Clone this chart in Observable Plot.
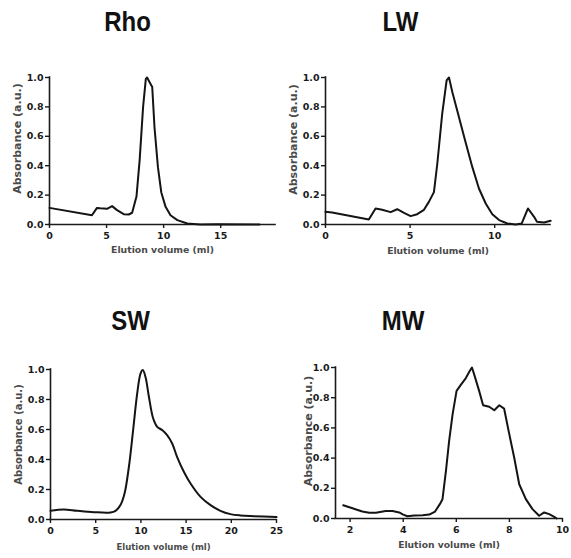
<!DOCTYPE html>
<html>
<head>
<meta charset="utf-8">
<script src="https://cdn.jsdelivr.net/npm/d3@7"></script>
<script src="https://cdn.jsdelivr.net/npm/@observablehq/plot@0.6"></script>
<style>
  body { margin: 0; background: #fff; }
  #wrap { position: relative; width: 571px; height: 558px; overflow: hidden; background: #fff; }
  .title { position: absolute; font-family: "Liberation Sans", Arial, sans-serif; font-weight: bold;
           font-size: 24px; line-height: 1; color: #111; transform: translateX(-50%) scaleY(1.12); transform-origin: 50% 85%; white-space: nowrap; }
  .panel { position: absolute; }
</style>
</head>
<body>
<div id="wrap"></div>
<script>
// ---- data ----
const titles = ["Rho", "LW", "SW", "MW"];
const yLabel = "Absorbance (a.u.)";
const xLabel = "Elution volume (ml)";
const yTicks = [0, 0.2, 0.4, 0.6, 0.8, 1.0];

const rhoX = [0, 3.72, 4.16, 4.45, 5.04, 5.48, 5.92, 6.5, 6.94, 7.24, 7.62, 7.9, 8.2, 8.44, 8.55, 8.76, 9.0, 9.2, 9.5, 9.79, 10.17, 10.6, 11.2, 12.07, 13.2, 14.7, 18.4];
const rhoY = [0.113, 0.063, 0.113, 0.11, 0.107, 0.125, 0.098, 0.07, 0.068, 0.08, 0.19, 0.44, 0.80, 0.99, 1.0, 0.97, 0.935, 0.66, 0.39, 0.22, 0.12, 0.063, 0.03, 0.007, 0.0, 0.002, 0.0];
const rhoXDomain = [0, 19.8];
const rhoXTicks = [0, 5, 10, 15];

const lwX = [0, 0.39, 2.56, 2.96, 3.35, 3.85, 4.24, 4.64, 5.03, 5.42, 5.82, 6.11, 6.41, 6.61, 6.9, 7.16, 7.3, 7.5, 7.89, 8.28, 8.68, 9.07, 9.47, 9.86, 10.26, 10.75, 11.24, 11.6, 11.97, 12.33, 12.5, 12.92, 13.31];
const lwY = [0.086, 0.082, 0.034, 0.109, 0.10, 0.084, 0.104, 0.079, 0.057, 0.07, 0.10, 0.154, 0.22, 0.415, 0.755, 0.98, 1.0, 0.9, 0.73, 0.56, 0.39, 0.245, 0.143, 0.07, 0.03, 0.007, 0.0, 0.007, 0.109, 0.052, 0.018, 0.014, 0.025];
const lwXDomain = [0, 13.3];
const lwXTicks = [0, 5, 10];

const swX = [0, 1.47, 2.95, 4.79, 6.64, 7.19, 7.74, 8.19, 8.67, 9.14, 9.59, 9.96, 10.21, 10.51, 10.88, 11.36, 11.8, 12.35, 12.9, 13.46, 14.0, 14.75, 15.49, 16.6, 17.7, 18.8, 19.9, 21.0, 22.5, 25];
const swY = [0.058, 0.067, 0.058, 0.049, 0.047, 0.058, 0.096, 0.173, 0.35, 0.596, 0.84, 0.973, 0.996, 0.95, 0.82, 0.673, 0.618, 0.596, 0.562, 0.507, 0.418, 0.318, 0.24, 0.151, 0.096, 0.058, 0.036, 0.027, 0.022, 0.016];
const swXDomain = [0, 25];
const swXTicks = [0, 5, 10, 15, 20, 25];

const mwX = [1.74, 2.09, 2.46, 2.72, 2.97, 3.34, 3.6, 3.85, 4.0, 4.16, 4.41, 4.73, 4.98, 5.2, 5.38, 5.48, 5.61, 5.73, 5.86, 6.01, 6.17, 6.36, 6.51, 6.59, 6.67, 6.86, 7.01, 7.24, 7.43, 7.62, 7.8, 7.97, 8.18, 8.37, 8.62, 8.87, 9.12, 9.31, 9.5, 9.69, 9.78];
const mwY = [0.088, 0.068, 0.046, 0.0375, 0.0375, 0.049, 0.049, 0.04, 0.026, 0.015, 0.02, 0.022, 0.026, 0.046, 0.095, 0.128, 0.316, 0.514, 0.69, 0.845, 0.885, 0.93, 0.978, 1.0, 0.956, 0.845, 0.75, 0.74, 0.717, 0.75, 0.728, 0.58, 0.404, 0.227, 0.128, 0.062, 0.018, 0.04, 0.029, 0.011, 0.0];
const mwXDomain = [1.45, 10];
const mwXTicks = [2, 4, 6, 8, 10];

// ---- layout ----
const panels = [
  {title: titles[0], xs: rhoX, ys: rhoY, dom: rhoXDomain, ticks: rhoXTicks, curve: "linear",
   left: 0, top: 60, width: 285, mL: 49, mR: 10, mT: 17, plotH: 147, mB: 40,
   tx: 127.5, tTop: 10.5, ylDx: -32, ylDy: -12.5, ylFs: 11, ylLs: 0.85, xlDy: 28.5, xlFs: 9.3},
  {title: titles[1], xs: lwX, ys: lwY, dom: lwXDomain, ticks: lwXTicks, curve: "linear",
   left: 285, top: 60, width: 286, mL: 40, mR: 21, mT: 17, plotH: 147, mB: 40,
   tx: 400.5, tTop: 10.5, ylDx: -32.5, ylDy: -11.5, ylFs: 11, ylLs: 0.75, xlDy: 29, xlFs: 9.2},
  {title: titles[2], xs: swX, ys: swY, dom: swXDomain, ticks: swXTicks, curve: "catmull-rom",
   left: 0, top: 340, width: 285, mL: 50, mR: 9, mT: 29, plotH: 150, mB: 39,
   tx: 130.5, tTop: 309.5, ylDx: -31.5, ylDy: -10, ylFs: 10, ylLs: 0.4, xlDy: 30, xlFs: 8.5},
  {title: titles[3], xs: mwX, ys: mwY, dom: mwXDomain, ticks: mwXTicks, curve: "linear",
   left: 285, top: 340, width: 286, mL: 50, mR: 9, mT: 27, plotH: 151, mB: 40,
   tx: 403, tTop: 309.5, ylDx: -27, ylDy: -12, ylFs: 11, ylLs: 0.85, xlDy: 29, xlFs: 9.2}
];

const wrap = document.getElementById("wrap");

for (const p of panels) {
  const data = p.xs.map((x, i) => ({x, y: p.ys[i]}));
  const chart = Plot.plot({
    width: p.width,
    height: p.mT + p.plotH + p.mB,
    marginLeft: p.mL, marginRight: p.mR, marginTop: p.mT, marginBottom: p.mB,
    style: {fontFamily: "'DejaVu Sans', Verdana, sans-serif", fontWeight: "bold", fontSize: "9.5px", color: "#1a1a1a", background: "transparent", overflow: "visible"},
    x: {domain: p.dom, label: null},
    y: {domain: [0, 1], label: null},
    marks: [
      Plot.axisY({ticks: yTicks, tickFormat: ".1f", tickSize: 4, tickPadding: 2, strokeWidth: 1.4, label: null, fill: "#1a1a1a"}),
      Plot.axisX({ticks: p.ticks, tickFormat: d => String(d), tickSize: 4, tickPadding: 4, strokeWidth: 1.4, label: null, fill: "#1a1a1a"}),
      Plot.ruleX([p.dom[0]], {stroke: "#1a1a1a", strokeWidth: 1.6, strokeLinecap: "square"}),
      Plot.ruleY([0], {stroke: "#1a1a1a", strokeWidth: 1.6, strokeLinecap: "square"}),
      Plot.line(data, {x: "x", y: "y", stroke: "#141414", strokeWidth: 2, curve: p.curve}),
      Plot.text([yLabel], {frameAnchor: "left", textAnchor: "middle", rotate: -90, dx: p.ylDx, dy: p.ylDy, fontSize: p.ylFs, fontWeight: "bold", fill: "#4a4a4a", ariaLabel: "ylabel"}),
      Plot.text([xLabel], {frameAnchor: "bottom", dy: p.xlDy, fontSize: p.xlFs, fontWeight: "bold", fill: "#4a4a4a"})
    ]
  });
  chart.querySelectorAll('g[aria-label="ylabel"] text').forEach(t => { t.style.letterSpacing = p.ylLs + "px"; });
  chart.classList.add("panel");
  chart.style.left = p.left + "px";
  chart.style.top = p.top + "px";
  wrap.appendChild(chart);

  const t = document.createElement("div");
  t.className = "title";
  t.textContent = p.title;
  t.style.left = p.tx + "px";
  t.style.top = p.tTop + "px";
  wrap.appendChild(t);
}
</script>
</body>
</html>
